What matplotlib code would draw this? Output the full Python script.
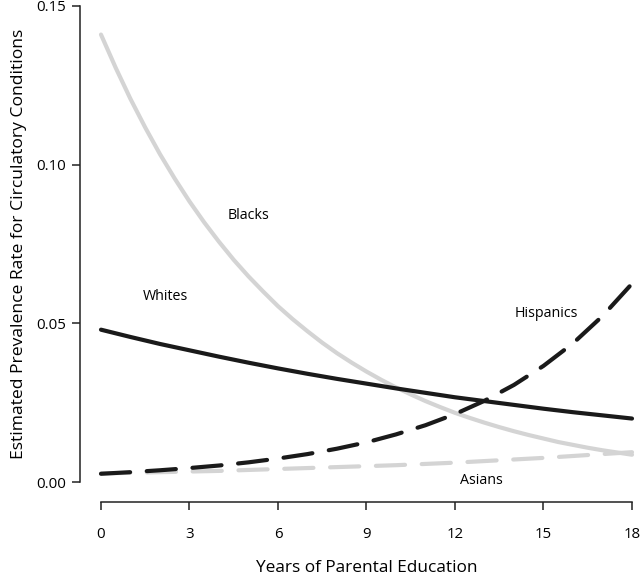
import matplotlib.pyplot as plt

plt.rcParams['font.family'] = ['Open Sans', 'DejaVu Sans']

years = list(range(0, 19))
half_years = [i / 2 for i in range(0, 37)]

# Blacks read on a half-year grid (steep curve)
blacks = [0.1410, 0.1305, 0.1207, 0.1117, 0.1033, 0.0956, 0.0884, 0.0818, 0.0757,
          0.0700, 0.0648, 0.0600, 0.0554, 0.0513, 0.0475, 0.0439, 0.0406, 0.0376,
          0.0348, 0.0322, 0.0298, 0.0276, 0.0255, 0.0236, 0.0218, 0.0202, 0.0187,
          0.0173, 0.0160, 0.0148, 0.0137, 0.0126, 0.0117, 0.0108, 0.0100, 0.0093, 0.0086]
whites = [0.0480, 0.0457, 0.0435, 0.0415, 0.0395, 0.0376, 0.0358, 0.0341, 0.0325,
          0.0310, 0.0295, 0.0281, 0.0267, 0.0255, 0.0243, 0.0231, 0.0220, 0.0210, 0.0200]
hispanics = [0.0026, 0.0031, 0.0037, 0.0044, 0.0052, 0.0062, 0.0074, 0.0088, 0.0105,
             0.0125, 0.0150, 0.0179, 0.0214, 0.0256, 0.0306, 0.0366, 0.0437, 0.0523, 0.0625]
asians = [0.0027, 0.0029, 0.0031, 0.0033, 0.0035, 0.0038, 0.0041, 0.0044, 0.0047,
          0.0050, 0.0053, 0.0057, 0.0061, 0.0066, 0.0071, 0.0076, 0.0082, 0.0088, 0.0094]

xticks = [0, 3, 6, 9, 12, 15, 18]
yticks = [0.00, 0.05, 0.10, 0.15]

black = '#1a1a1a'
grey = '#d4d4d4'

fig = plt.figure(figsize=(6.4, 5.82), dpi=100)
ax = fig.add_axes([0.1578, 0.1718, 0.8297, 0.8179])

ax.plot(years, asians, color=grey, lw=3, dashes=(7, 4), dash_capstyle='round', clip_on=False)
ax.plot(half_years, blacks, color=grey, lw=3, solid_capstyle='round', clip_on=False)
ax.plot(years, hispanics, color=black, lw=3, dashes=(7, 4), dash_capstyle='round', clip_on=False)
ax.plot(years, whites, color=black, lw=3, solid_capstyle='round', clip_on=False)

ax.text(5.0, 0.084, 'Blacks', ha='center', va='center', fontsize=10.3)
ax.text(2.2, 0.0586, 'Whites', ha='center', va='center', fontsize=10.3)
ax.text(15.1, 0.053, 'Hispanics', ha='center', va='center', fontsize=10.3)
ax.text(12.9, 0.0006, 'Asians', ha='center', va='center', fontsize=10.3)

ax.set_xlim(0, 18)
ax.set_ylim(0, 0.15)
ax.set_xticks(xticks)
ax.set_yticks(yticks)
ax.set_yticklabels(['%.2f' % v for v in yticks])

for side in ['top', 'right']:
    ax.spines[side].set_visible(False)
ax.spines['left'].set_position(('outward', 15))
ax.spines['bottom'].set_position(('outward', 14.5))
ax.spines['left'].set_bounds(0, 0.15)
ax.spines['bottom'].set_bounds(0, 18)
for side in ['left', 'bottom']:
    ax.spines[side].set_linewidth(1.1)
    ax.spines[side].set_color('#222222')
ax.tick_params(length=6, width=1.1, color='#222222', labelsize=10.8, pad=4)
ax.tick_params(axis='x', pad=12)

ax.set_xlabel('Years of Parental Education', fontsize=12.4, labelpad=13)
ax.set_ylabel('Estimated Prevalence Rate for Circulatory Conditions', fontsize=12.6, labelpad=7)

fig.savefig('out.png', dpi=100)
